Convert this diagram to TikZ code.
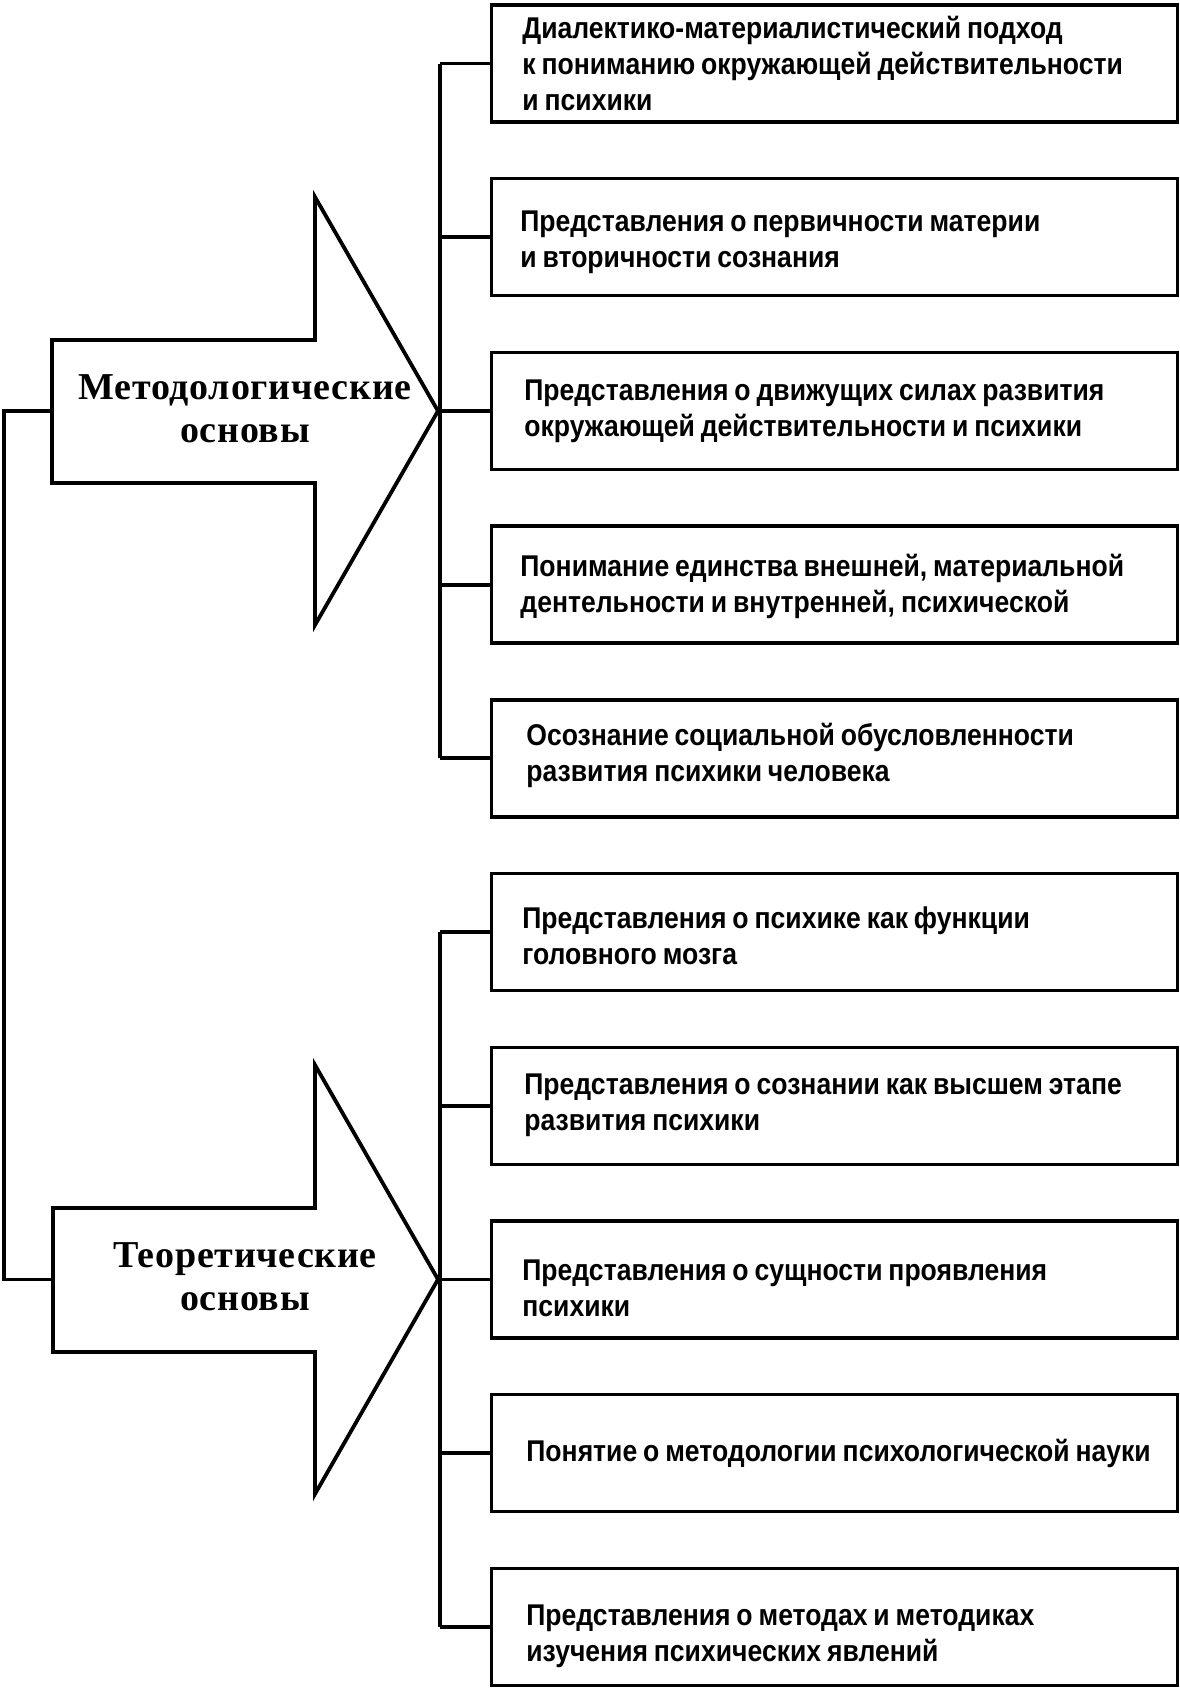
\documentclass[tikz,border=0pt]{standalone}
\usepackage{fontspec}
\setmainfont{Liberation Sans}[FakeStretch=0.885,WordSpace=0.8]
\newfontfamily\arrowfont{Liberation Serif}[LetterSpace=2]
\begin{document}
\begin{tikzpicture}[x=0.5pt,y=-0.5pt,line join=miter,
  conn/.style={line width=1.9pt},
  boxnode/.style={draw,line width=1.7pt,minimum width=343pt,minimum height=58.5pt,inner sep=0pt,anchor=west},
  boxtext/.style={anchor=west,inner sep=0pt,align=left,font=\bfseries\fontsize{15}{18}\selectfont},
  arrowshape/.style={draw,line width=1.9pt,fill=white},
  arrowtext/.style={align=center,inner sep=0pt,font=\arrowfont\bfseries\fontsize{19}{21.5}\selectfont}]
\fill[white] (0,0) rectangle (1179,1697);
\useasboundingbox (0,0) rectangle (1179,1697);

% boxes
\foreach \k/\cy in {1/63.5,2/237.2,3/410.9,4/584.6,5/758.3,6/932,7/1105.7,8/1279.4,9/1453.1,10/1626.8}{
  \node[boxnode] (b\k) at (490,\cy) {};
}
\node[boxtext] (t1) at ([xshift=16pt]b1.west) {Диалектико-материалистический подход\\к пониманию окружающей действительности\\и психики};
\node[boxtext] (t2) at ([xshift=15pt,yshift=-2.5pt]b2.west) {Представления о первичности материи\\и вторичности сознания};
\node[boxtext] (t3) at ([xshift=17pt]b3.west) {Представления о движущих силах развития\\окружающей действительности и психики};
\node[boxtext] (t4) at ([xshift=15pt,yshift=-1pt]b4.west) {Понимание единства внешней, материальной\\дентельности и внутренней, психической};
\node[boxtext] (t5) at ([xshift=18pt,yshift=1.5pt]b5.west) {Осознание социальной обусловленности\\развития психики человека};
\node[boxtext] (t6) at ([xshift=16pt,yshift=-2pt]b6.west) {Представления о психике как функции\\головного мозга};
\node[boxtext] (t7) at ([xshift=17pt]b7.west) {Представления о сознании как высшем этапе\\развития психики};
\node[boxtext] (t8) at ([xshift=16pt,yshift=-4.5pt]b8.west) {Представления о сущности проявления\\психики};
\node[boxtext] (t9) at ([xshift=18pt]b9.west) {Понятие о методологии психологической науки};
\node[boxtext] (t10) at ([xshift=18pt,yshift=-4.5pt]b10.west) {Представления о методах и методиках\\изучения психических явлений};

% arrows
\draw[arrowshape] (52,340) -- (315,340) -- (315,197) -- (438,411) -- (315,625) -- (315,483) -- (52,483) -- cycle;
\draw[arrowshape] (53,1208) -- (315,1208) -- (315,1065) -- (438,1279.4) -- (315,1494) -- (315,1352) -- (53,1352) -- cycle;
\coordinate (tipA) at (438,411);
\coordinate (tipB) at (438,1279.4);
\coordinate (awA) at (52,411);
\coordinate (awB) at (53,1279.4);
\coordinate (lA) at (4,411);
\coordinate (lB) at (4,1279.4);
\node[arrowtext] (mA) at (245,409) {Методологические\\основы};
\node[arrowtext] (mB) at (245,1277) {Теоретические\\основы};

% buses
\draw[conn] ([xshift=-25pt]b1.west) -- ([xshift=-25pt]b5.west);
\draw[conn] ([xshift=-25pt]b6.west) -- ([xshift=-25pt]b10.west);
\foreach \k in {1,...,10}{
  \draw[conn] ([xshift=-25pt]b\k.west) -- (b\k.west);
}
% left connector
\draw[conn] (awA) -- (lA) -- (lB) -- (awB);
\end{tikzpicture}
\end{document}
